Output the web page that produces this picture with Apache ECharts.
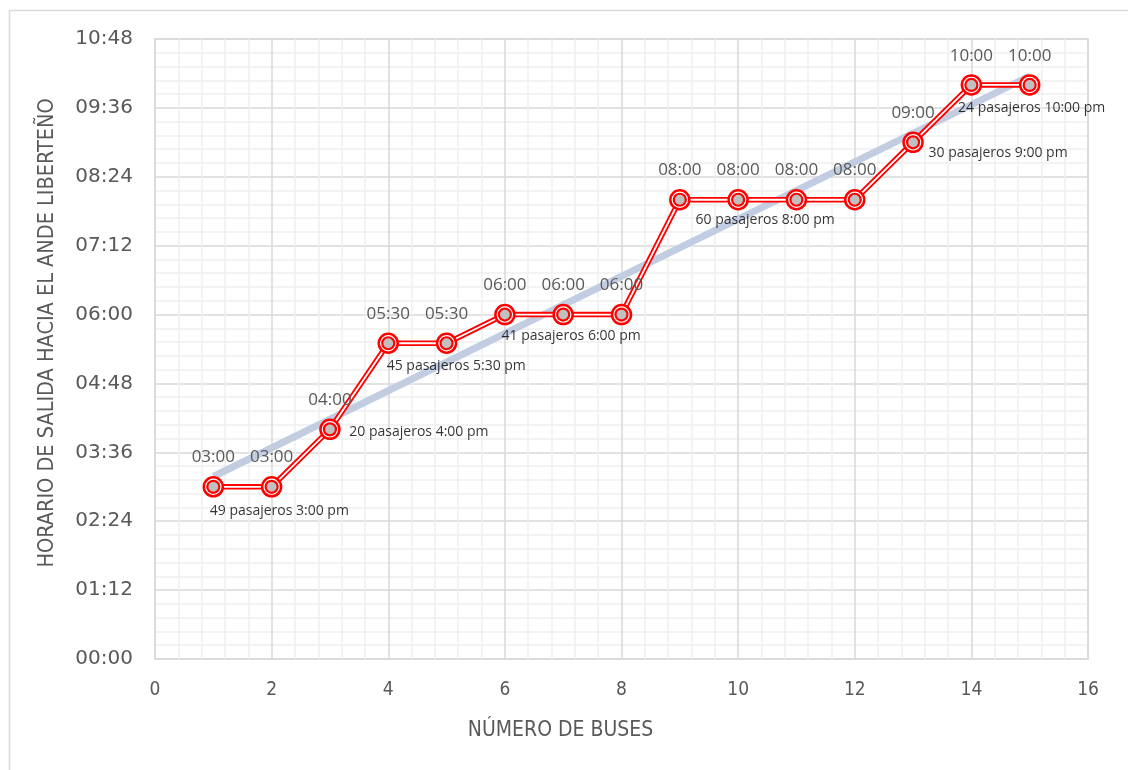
<!DOCTYPE html>
<html>
<head>
<meta charset="utf-8">
<script src="https://cdn.jsdelivr.net/npm/echarts@6/dist/echarts.min.js"></script>
<style>
    html, body { margin: 0; padding: 0; background: #fff; }
    #chart { width: 1128px; height: 770px; }
</style>
</head>
<body>
<div id="chart"></div>
<script>
// datos
var buses = [1, 2, 3, 4, 5, 6, 7, 8, 9, 10, 11, 12, 13, 14, 15];
// hora de salida en minutos (03:00 = 180)
var salida = [180, 180, 240, 330, 330, 360, 360, 360, 480, 480, 480, 480, 540, 600, 600];
var yTicks = ['00:00', '01:12', '02:24', '03:36', '04:48', '06:00', '07:12', '08:24', '09:36', '10:48'];
var notaBus = [1, 3, 4, 7, 10, 13, 15];
var notaTexto = [
    '49 pasajeros 3:00 pm',
    '20 pasajeros 4:00 pm',
    '45 pasajeros 5:30 pm',
    '41 pasajeros 6:00 pm',
    '60 pasajeros 8:00 pm',
    '30 pasajeros 9:00 pm',
    '24 pasajeros 10:00 pm'
];

// desplazamiento de cada nota respecto a su punto (px)
var notaOffset = [[66, 24], [89, 3], [68, 23], [8, 21], [27, 20], [85, 11], [2, 23]];

var narrow = '"DejaVu Sans Condensed", "Open Sans", sans-serif';

function hhmm(v) {
    var h = Math.floor(v / 60), m = Math.round(v % 60);
    return (h < 10 ? '0' : '') + h + ':' + (m < 10 ? '0' : '') + m;
}

// linea de tendencia (minimos cuadrados)
function tendencia() {
    var n = buses.length, sx = 0, sy = 0, sxy = 0, sxx = 0;
    for (var i = 0; i < n; i++) {
        sx += buses[i]; sy += salida[i];
        sxy += buses[i] * salida[i]; sxx += buses[i] * buses[i];
    }
    var b = (n * sxy - sx * sy) / (n * sxx - sx * sx);
    var a = (sy - b * sx) / n;
    var x0 = buses[0], x1 = buses[n - 1];
    return [[x0, a + b * x0], [x1, a + b * x1]];
}

var puntos = [];
for (var i = 0; i < buses.length; i++) {
    puntos.push([buses[i], salida[i]]);
}

var notas = [];
for (var j = 0; j < notaBus.length; j++) {
    var k = buses.indexOf(notaBus[j]);
    notas.push({
        value: [buses[k], salida[k]],
        label: {offset: notaOffset[j], formatter: notaTexto[j]}
    });
}

var chart = echarts.init(document.getElementById('chart'));
chart.setOption({
    animation: false,
    backgroundColor: '#fff',
    graphic: [{
        type: 'rect',
        left: 7, top: 8,
        shape: {width: 1140, height: 780},
        style: {fill: 'none', stroke: '#d9d9d9', lineWidth: 1.5},
        silent: true
    }],
    grid: {left: 155, right: 40, top: 39, bottom: 111, show: true, borderColor: '#d9d9d9', borderWidth: 1.5},
    xAxis: {
        type: 'value',
        min: 0,
        max: 16,
        interval: 2,
        name: 'NÚMERO DE BUSES',
        nameLocation: 'middle',
        nameGap: 61,
        nameTextStyle: {fontFamily: narrow, fontSize: 21, color: '#595959', padding: [0, 122, 0, 0]},
        axisLine: {show: false},
        axisTick: {show: false},
        axisLabel: {margin: 22, fontFamily: narrow, fontSize: 19, color: '#595959'},
        splitLine: {lineStyle: {color: '#d9d9d9', width: 1.5}},
        minorTick: {show: false, splitNumber: 5},
        minorSplitLine: {show: true, lineStyle: {color: '#f0f0f0', width: 1.5}}
    },
    yAxis: {
        type: 'value',
        min: 0,
        max: 648,
        interval: 72,
        name: 'HORARIO DE SALIDA HACIA EL ANDE LIBERTEÑO',
        nameLocation: 'middle',
        nameGap: 97,
        nameTextStyle: {fontFamily: narrow, fontSize: 21.5, color: '#595959', padding: [0, 0, 0, 32]},
        axisLine: {show: false},
        axisTick: {show: false},
        axisLabel: {
            margin: 22,
            fontFamily: 'DejaVu Sans',
            fontSize: 20,
            color: '#595959',
            formatter: function (v) { return yTicks[Math.round(v / 72)]; }
        },
        splitLine: {lineStyle: {color: '#d9d9d9', width: 1.5}},
        minorTick: {show: false, splitNumber: 5},
        minorSplitLine: {show: true, lineStyle: {color: '#f0f0f0', width: 1.5}}
    },
    series: [
        {
            // tendencia
            type: 'line',
            data: tendencia(),
            symbol: 'none',
            silent: true,
            z: 1,
            lineStyle: {color: '#c2cde2', width: 7}
        },
        {
            type: 'line',
            data: puntos,
            symbol: 'none',
            z: 2,
            lineStyle: {color: '#ff0000', width: 5.5}
        },
        {
            type: 'line',
            data: puntos,
            symbol: 'none',
            z: 3,
            lineStyle: {color: '#ffffff', width: 1.8}
        },
        {
            type: 'scatter',
            data: puntos,
            symbol: 'circle',
            symbolSize: 19,
            z: 4,
            itemStyle: {color: '#ffffff', borderColor: '#ff0000', borderWidth: 2.5, opacity: 1},
            label: {
                show: true,
                position: 'top',
                distance: 10,
                fontFamily: 'Open Sans',
                fontSize: 17,
                color: '#595959',
                formatter: function (p) { return hhmm(p.value[1]); }
            }
        },
        {
            type: 'scatter',
            data: puntos,
            symbol: 'circle',
            symbolSize: 12,
            z: 5,
            itemStyle: {color: '#c0c0c0', borderColor: '#ff0000', borderWidth: 2.2, opacity: 1}
        },
        {
            type: 'scatter',
            data: notas,
            symbolSize: 0,
            silent: true,
            z: 10,
            label: {
                show: true,
                position: 'inside',
                align: 'center',
                verticalAlign: 'middle',
                fontFamily: 'Open Sans',
                fontSize: 14,
                color: '#000000'
            }
        }
    ]
});
</script>
</body>
</html>
